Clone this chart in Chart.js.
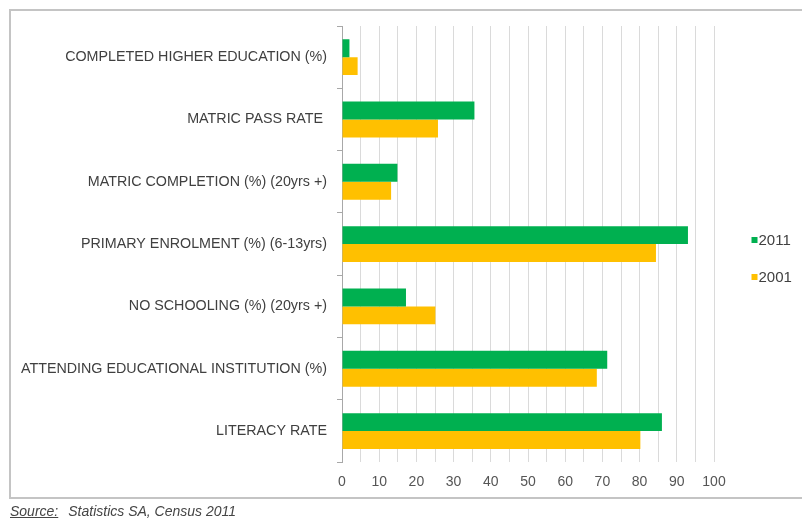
<!DOCTYPE html>
<html>
<head>
<meta charset="utf-8">
<title>Education indicators, 2001 and 2011</title>
<script src="https://cdn.jsdelivr.net/npm/chart.js@4/dist/chart.umd.min.js"></script>
<style>
  html, body { margin: 0; padding: 0; background: #fff; overflow: hidden; }
  #wrap { position: relative; width: 802px; height: 521px; overflow: hidden; }
  #frame {
    position: absolute; left: 9px; top: 9px; width: 900px; height: 490px;
    border: 2px solid #c4c4c4; box-sizing: border-box;
  }
  #chart { position: absolute; left: 0; top: 0; }
  #source {
    position: absolute; left: 10px; top: 503px;
    font: italic 14px "Liberation Sans", Arial, sans-serif; color: #454545;
    white-space: nowrap;
  }
  #source u { margin-right: 10px; }
</style>
</head>
<body>
<div id="wrap">
  <div id="frame"></div>
  <canvas id="chart" width="802" height="521"></canvas>
  <div id="source"><u>Source:</u>Statistics SA, Census 2011</div>
</div>
<script>
// Indicators, listed top to bottom
const categories = [
  'COMPLETED HIGHER EDUCATION (%)',
  'MATRIC PASS RATE ',
  'MATRIC COMPLETION (%) (20yrs +)',
  'PRIMARY ENROLMENT (%) (6-13yrs)',
  'NO SCHOOLING (%) (20yrs +)',
  'ATTENDING EDUCATIONAL INSTITUTION (%)',
  'LITERACY RATE'
];
const seriesNames = ['2011', '2001'];
const values2011 = [2.0, 35.6, 14.9, 93.0, 17.2, 71.3, 86.0];
const values2001 = [4.2, 25.8, 13.2, 84.4, 25.1, 68.5, 80.2];
const xTickLabels = ['0', '10', '20', '30', '40', '50', '60', '70', '80', '90', '100'];

const GREEN = '#00b050';
const YELLOW = '#ffc000';
const TEXT = '#404040';

Chart.defaults.font.family = "'Liberation Sans', Arial, sans-serif";
Chart.defaults.color = TEXT;

// Small square-marker legend drawn to the right of the plot
const sideLegend = {
  id: 'sideLegend',
  afterDraw(chart) {
    const ctx = chart.ctx;
    const rows = [240, 277];
    ctx.save();
    ctx.font = "15px 'Liberation Sans', Arial, sans-serif";
    ctx.textBaseline = 'middle';
    ctx.textAlign = 'left';
    chart.data.datasets.forEach((ds, i) => {
      const y = rows[i];
      ctx.fillStyle = ds.backgroundColor;
      ctx.fillRect(751.5, y - 3, 6, 6);
      ctx.fillStyle = TEXT;
      ctx.fillText(ds.label, 758.5, y + 0.5);
    });
    ctx.restore();
  }
};

new Chart(document.getElementById('chart'), {
  type: 'bar',
  data: {
    labels: categories,
    datasets: [
      { label: seriesNames[0], data: values2011, backgroundColor: GREEN, borderWidth: 0 },
      { label: seriesNames[1], data: values2001, backgroundColor: YELLOW, borderWidth: 0 }
    ]
  },
  options: {
    indexAxis: 'y',
    responsive: false,
    animation: false,
    devicePixelRatio: 1,
    layout: { padding: { left: 0, right: 88, top: 26, bottom: 18 } },
    datasets: { bar: { categoryPercentage: 0.575, barPercentage: 1.0 } },
    plugins: {
      legend: { display: false },
      tooltip: { enabled: false }
    },
    scales: {
      x: {
        min: 0,
        max: 100,
        border: { display: false },
        grid: { color: '#dadada', lineWidth: 1, drawTicks: false },
        ticks: {
          stepSize: 5,
          autoSkip: false,
          maxRotation: 0,
          padding: 12,
          color: '#555',
          font: { size: 14 },
          callback: (v) => (v % 10 === 0 ? xTickLabels[v / 10] : '')
        }
      },
      y: {
        afterFit: (scale) => { scale.width = 342; },
        border: { display: true, color: '#a8a8a8', width: 1 },
        grid: { drawOnChartArea: false, drawTicks: true, tickLength: 5, color: '#a8a8a8' },
        ticks: { padding: 10, color: TEXT, font: { size: 14.3 } }
      }
    }
  },
  plugins: [sideLegend]
});
</script>
</body>
</html>
